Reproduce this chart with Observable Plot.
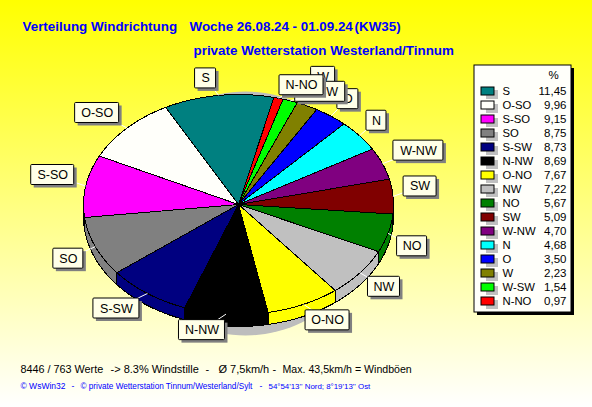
<!DOCTYPE html>
<html>
<head>
<meta charset="utf-8">
<script src="https://cdn.jsdelivr.net/npm/d3@7"></script>
<script src="https://cdn.jsdelivr.net/npm/@observablehq/plot@0.6"></script>
<style>
html,body{margin:0;padding:0;background:#fff}
svg{display:block;background:linear-gradient(#ffff00,#ffffff)}
text{font-family:"Liberation Sans",Arial,sans-serif}
</style>
</head>
<body>
<script>
// Legend order
const names = ["S","O-SO","S-SO","SO","S-SW","N-NW","O-NO","NW","NO","SW","W-NW","N","O","W","W-SW","N-NO"];
const percents = [11.45,9.96,9.15,8.75,8.73,8.69,7.67,7.22,5.67,5.09,4.70,4.68,3.50,2.23,1.54,0.97];
const colors = ["#008080","#fffffa","#ff00ff","#808080","#000080","#000000","#ffff00","#c0c0c0","#008000","#800000","#800080","#00ffff","#0000ff","#808000","#00ff00","#ff0000"];
// Clockwise drawing order on the pie
const pieOrder = ["S","N-NO","W-SW","W","O","N","W-NW","SW","NO","NW","O-NO","N-NW","S-SW","SO","S-SO","O-SO"];
// Callout placement relative to the slice rim (layout)
const calloutDx = {"S":-13,"N-NO":23,"W-SW":30,"W":16,"O":17,"N":17,"W-NW":36,"SW":27,"NO":24,"NW":24,"O-NO":24,"N-NW":-24,"S-SW":-31,"SO":-27,"S-SO":-33,"O-SO":-30};
const calloutDy = {"S":-17,"N-NO":-13,"W-SW":-9,"W":-29,"O":-17,"N":-15,"W-NW":-13,"SW":-10,"NO":13,"NW":14,"O-NO":16,"N-NW":16,"S-SW":15,"SO":12,"S-SO":-11,"O-SO":-15};
const calloutW = {"S":21,"N-NO":44,"W-SW":50,"W":24,"O":21,"N":20,"W-NW":50,"SW":33,"NO":30,"NW":32,"O-NO":44,"N-NW":46,"S-SW":46,"SO":30,"S-SO":43,"O-SO":44};

const titleParts = [
  {t:"Verteilung Windrichtung", x:22, y:30},
  {t:"Woche 26.08.24", x:189, y:30},
  {t:"- 01.09.24", x:292, y:30},
  {t:"(KW35)", x:354, y:30},
  {t:"private Wetterstation Westerland/Tinnum", x:193, y:54}
];
const statsParts = [
  {t:"8446 / 763 Werte", x:20, s:10.8},
  {t:"-> 8.3% Windstille", x:110, s:11},
  {t:"-", x:205, s:11},
  {t:"Ø 7,5km/h", x:218, s:11},
  {t:"-", x:272, s:11},
  {t:"Max. 43,5km/h = Windböen", x:282, s:10.6}
];
const footerParts = [
  {t:"© WsWin32", x:20, s:8.5},
  {t:"-", x:71, s:8.5},
  {t:"© private Wetterstation Tinnum/Westerland/Sylt", x:80, s:8.2},
  {t:"-", x:259, s:8.5},
  {t:"54°54'13'' Nord; 8°19'13'' Ost", x:268, s:7.9}
];

// Pie geometry
const cx = 238, cy = 204, rx = 155, ry = 110, depth = 12, startDeg = -28;
const pct = new Map(names.map((n,i)=>[n,percents[i]]));
const col = new Map(names.map((n,i)=>[n,colors[i]]));
const rim = (deg, off=0) => {
  const a = deg*Math.PI/180;
  return {x: cx + rx*Math.sin(a), y: cy - ry*Math.cos(a) + off};
};
let cursor = startDeg;
const slices = pieOrder.map(name => {
  const a0 = cursor, a1 = cursor + pct.get(name)*3.6;
  cursor = a1;
  return {name, a0, a1, mid:(a0+a1)/2, color:col.get(name)};
});
const arc = (a0,a1,off=0) => {
  const n = Math.max(2, Math.ceil(a1-a0)+1);
  return d3.range(n).map(i => rim(a0+(a1-a0)*i/(n-1), off));
};
const topPts = slices.flatMap(s => [
  {x:cx,y:cy}, ...arc(s.a0,s.a1), {x:cx,y:cy}
].map(p => ({...p, name:s.name, color:s.color})));
const wallPts = slices.flatMap(s => {
  const pieces = [[s.a0,s.a1],[s.a0+360,s.a1+360]];
  return pieces.flatMap(([a,b],k) => {
    const lo = Math.max(a,90), hi = Math.min(b,270);
    if (hi <= lo) return [];
    const up = arc(lo,hi), down = arc(lo,hi,depth).reverse();
    return [...up,...down,up[0]].map(p => ({...p, name:s.name+k, color:s.color}));
  });
});
const shadowPts = d3.range(0,361,3).map(d => {
  const a = d*Math.PI/180;
  return {x:245+125*Math.sin(a), y:213-122*Math.cos(a)};
});
const labels = slices.map(s => {
  const r = rim(s.mid);
  return {name:s.name, x0:r.x, y0:r.y, x:r.x+calloutDx[s.name], y:r.y+calloutDy[s.name], w:calloutW[s.name]};
});
// Callouts stack in legend order, N-NO on top
const stacked = names.map(n => labels.find(l => l.name===n));
const legendRows = names.map((n,i)=>({n, v:percents[i].toFixed(2).replace(".",","), c:colors[i], y:91+14*i}));

const halfH = 10;
const chart = Plot.plot({
  width:592, height:407, margin:0,
  x:{domain:[0,592], range:[0,592], axis:null},
  y:{domain:[0,407], range:[0,407], axis:null},
  style:{background:"linear-gradient(#ffff00,#ffffff)"},
  marks:[
    Plot.line(shadowPts,{x:"x",y:"y",fill:"#bdbdbd",stroke:"none"}),
    Plot.line(wallPts,{x:"x",y:"y",z:"name",fill:"color",stroke:"#000",strokeWidth:1,shapeRendering:"crispEdges"}),
    Plot.line(topPts,{x:"x",y:"y",z:"name",fill:"color",stroke:"#000",strokeWidth:1,shapeRendering:"crispEdges"}),
    Plot.link(labels,{x1:"x0",y1:"y0",x2:"x",y2:"y",stroke:"#fff",strokeWidth:1}),
    // callouts: each drawn in turn so that they overlap correctly
    ...stacked.flatMap(l => [
      Plot.rect([l],{x1:d=>d.x-d.w/2+3,x2:d=>d.x+d.w/2+3,y1:d=>d.y-halfH+3,y2:d=>d.y+halfH+3,fill:"#808080"}),
      Plot.rect([l],{x1:d=>d.x-d.w/2,x2:d=>d.x+d.w/2,y1:d=>d.y-halfH,y2:d=>d.y+halfH,fill:"#ffffe8",stroke:"#000",rx:1}),
      Plot.text([l],{x:"x",y:"y",text:"name",fontSize:12.5,fill:"#000"})
    ]),
    // legend
    Plot.rect([0],{x1:()=>477,x2:()=>574,y1:()=>68,y2:()=>315,fill:"#000"}),
    Plot.rect([0],{x1:()=>474,x2:()=>571,y1:()=>65,y2:()=>312,fill:"#fffffa",stroke:"#000"}),
    Plot.text(["%"],{x:()=>553,y:()=>75,text:d=>d,fontSize:11.5,fill:"#000"}),
    Plot.rect(legendRows,{x1:()=>486,x2:()=>498,y1:d=>d.y-1,y2:d=>d.y+8,fill:"#c0c0c0"}),
    Plot.rect(legendRows,{x1:()=>481,x2:()=>494,y1:d=>d.y-4,y2:d=>d.y+4,fill:"c",stroke:"#000"}),
    Plot.text(legendRows,{x:()=>502,y:"y",text:"n",textAnchor:"start",fontSize:11.3,fill:"#000"}),
    Plot.text(legendRows,{x:()=>566,y:"y",text:"v",textAnchor:"end",fontSize:11.5,fill:"#000"}),
    // texts
    Plot.text(titleParts,{x:"x",y:"y",text:"t",textAnchor:"start",lineAnchor:"bottom",fontSize:13.4,fontWeight:"bold",fill:"#0000ff"}),
    Plot.text(statsParts,{x:"x",y:()=>369,text:"t",textAnchor:"start",fontSize:"s",fill:"#000"}),
    Plot.text(footerParts,{x:"x",y:()=>386,text:"t",textAnchor:"start",fontSize:"s",fill:"#0000ff"})
  ]
});
document.body.appendChild(chart);
</script>
</body>
</html>
